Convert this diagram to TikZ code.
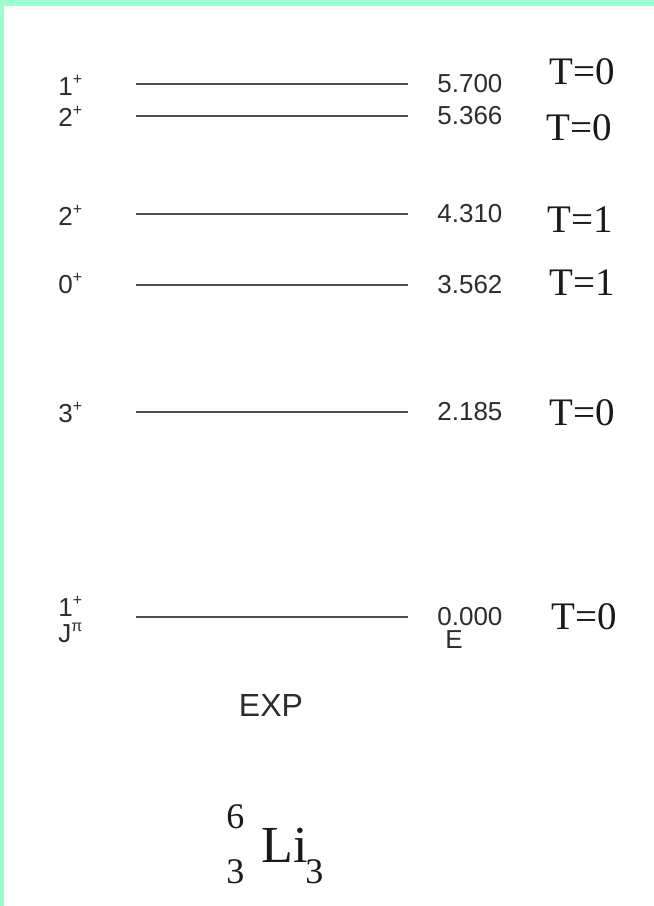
\documentclass[tikz,border=0pt]{standalone}
\usepackage{fontspec}
\setmainfont{Liberation Serif}
\setsansfont{Liberation Sans}
\usetikzlibrary{positioning}

\definecolor{mint}{RGB}{155,255,209}
\definecolor{levelgray}{RGB}{80,80,80}
\definecolor{inkgray}{RGB}{45,45,45}

\newcommand{\parsup}[1]{\raisebox{0.42em}{\fontsize{8}{8}\selectfont #1}}

\begin{document}
\begin{tikzpicture}[
    x=0.5pt, y=-0.5pt,
    level/.style={line width=1pt, draw=levelgray},
    spin/.style={anchor=base west, inner sep=0pt, text=inkgray, font=\sffamily\fontsize{13}{15}\selectfont},
    energy/.style={anchor=west, inner sep=0pt, text=inkgray, font=\sffamily\fontsize{13}{15}\selectfont},
    isospin/.style={inner sep=0pt, text=black!90, font=\fontsize{19.5}{22}\selectfont},
    nuclide/.style={anchor=base west, inner sep=0pt, text=black!90, font=\fontsize{26}{30}\selectfont},
    nucscript/.style={anchor=base west, inner sep=0pt, text=black!90, font=\fontsize{18}{20}\selectfont}
]
    % Frame
    \useasboundingbox (0,0) rectangle (654,906);
    \fill[white] (0,0) rectangle (654,906);
    \fill[mint] (0,0) rectangle (654,6);
    \fill[mint] (0,0) rectangle (4,906);

    % Level ends
    \coordinate (l1w) at (136,84);   \coordinate (l1e) at (408,84);
    \coordinate (l2w) at (136,116);  \coordinate (l2e) at (408,116);
    \coordinate (l3w) at (136,214);  \coordinate (l3e) at (408,214);
    \coordinate (l4w) at (136,285);  \coordinate (l4e) at (408,285);
    \coordinate (l5w) at (136,412);  \coordinate (l5e) at (408,412);
    \coordinate (l6w) at (136,617);  \coordinate (l6e) at (408,617);

    % Levels
    \draw[level] (l1w) -- (l1e);
    \draw[level] (l2w) -- (l2e);
    \draw[level] (l3w) -- (l3e);
    \draw[level] (l4w) -- (l4e);
    \draw[level] (l5w) -- (l5e);
    \draw[level] (l6w) -- (l6e);

    % Spin and parity
    \node[spin] (j1) at (58,95) {1\parsup{+}};
    \node[spin] (j2) at (58,126) {2\parsup{+}};
    \node[spin] (j3) at (58,225) {2\parsup{+}};
    \node[spin] (j4) at (58,293) {0\parsup{+}};
    \node[spin] (j5) at (58,422) {3\parsup{+}};
    \node[spin] (j6) at (58,616) {1\parsup{+}};
    \node[spin] (jpi) at (58,642) {J\parsup{π}};

    % Energies
    \node[energy, right=14.5pt of l1e] (e1) {5.700};
    \node[energy, right=14.5pt of l2e] (e2) {5.366};
    \node[energy, right=14.5pt of l3e] (e3) {4.310};
    \node[energy, right=14.5pt of l4e] (e4) {3.562};
    \node[energy, right=14.5pt of l5e] (e5) {2.185};
    \node[energy, right=14.5pt of l6e] (e6) {0.000};
    \node[energy, below right=2pt and 4pt of e6.south west, anchor=north west] (elab) {E};

    % Isospin
    \node[isospin] (t1) at (582,72) {T=0};
    \node[isospin] (t2) at (579,128) {T=0};
    \node[isospin] (t3) at (580,220) {T=1};
    \node[isospin] (t4) at (582,283) {T=1};
    \node[isospin] (t5) at (582,413) {T=0};
    \node[isospin] (t6) at (584,617) {T=0};

    % Captions
    \node[inner sep=0pt, text=inkgray, font=\sffamily\fontsize{16}{18}\selectfont] (exp) at (271,705) {EXP};
    \node[nuclide] (li) at (261,862) {Li};
    \node[nucscript] (mass) at (226,828) {6};
    \node[nucscript] (charge) at (226,883) {3};
    \node[nucscript] (neutrons) at (305,883) {3};
\end{tikzpicture}
\end{document}
